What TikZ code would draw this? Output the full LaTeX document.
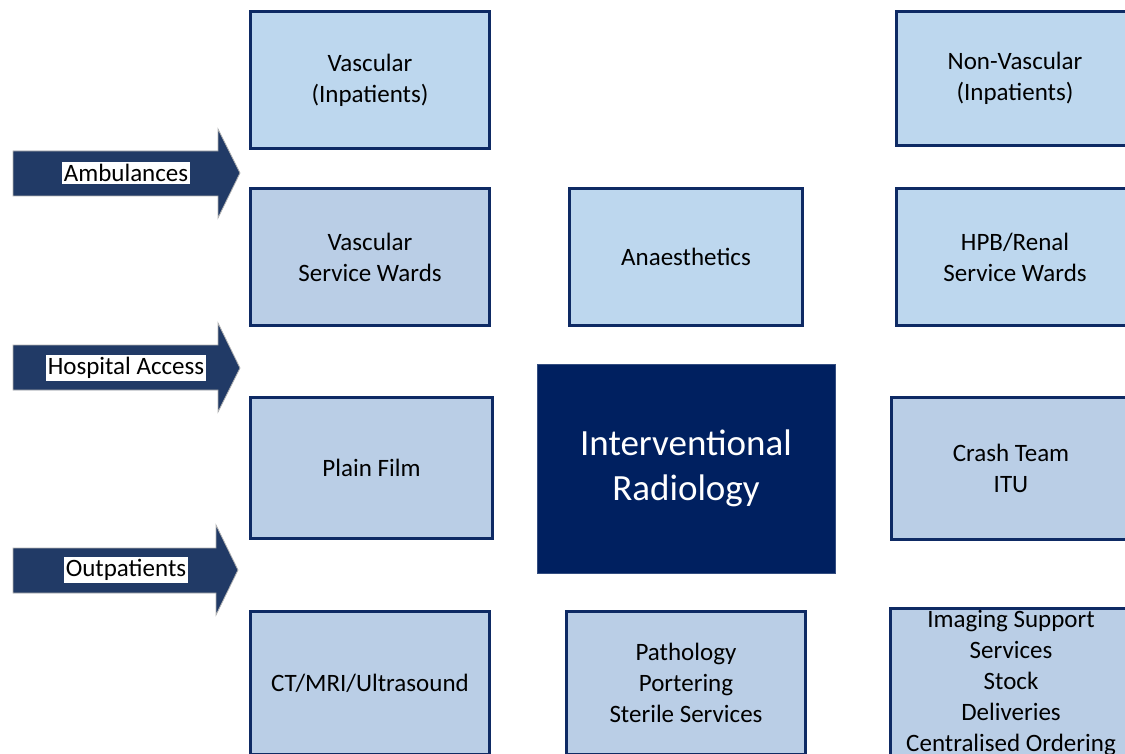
\documentclass[tikz,border=0pt]{standalone}
\usepackage{fontspec}
\setmainfont{Carlito}
\definecolor{navy}{HTML}{0E2A64}
\definecolor{irblue}{HTML}{002060}
\definecolor{arrowblue}{HTML}{213A66}
\definecolor{paleA}{HTML}{BDD7EE}
\definecolor{paleB}{HTML}{BACEE6}
\begin{document}
\begin{tikzpicture}[x=1pt,y=-1pt,
  unitbox/.style={draw=navy, line width=3pt, inner sep=2pt, align=center,
    font=\fontsize{25}{31}\selectfont, text=black},
  wardbox/.style={unitbox, fill=paleA},
  supportbox/.style={unitbox, fill=paleB},
  corebox/.style={fill=irblue, draw=irblue!80!white, line width=0.8pt, align=center,
    font=\fontsize{37}{45}\selectfont, text=white},
  flowarrow/.style={fill=arrowblue, draw=gray!60, line width=0.8pt},
  flowlabel/.style={fill=white, inner sep=2pt, font=\fontsize{25}{30}\selectfont, text=black}]
\useasboundingbox (0,0) rectangle (1125,754);
\clip (0,0) rectangle (1125,754);

% left column
\node[wardbox, minimum width=239pt, minimum height=137pt] (vi) at (370,80) {Vascular\\(Inpatients)};
\node[supportbox, minimum width=239pt, minimum height=137pt] (vsw) at (370,257) {Vascular\\Service Wards};
\node[supportbox, minimum width=242pt, minimum height=141pt] (pf) at (371.5,468) {Plain Film};
\node[supportbox, minimum width=239pt, minimum height=143pt] (ctmri) at (370,683) {CT/MRI/Ultrasound};

% middle column
\node[wardbox, minimum width=233pt, minimum height=137pt] (an) at (686,257) {Anaesthetics};
\node[corebox, minimum width=298pt, minimum height=209pt] (ir) at (686,468.5) {Interventional\\Radiology};
\node[supportbox, minimum width=239pt, minimum height=143pt] (path) at (686,683) {Pathology\\Portering\\Sterile Services};

% right column
\node[wardbox, minimum width=237pt, minimum height=134pt] (nv) at (1015,78.5) {Non-Vascular\\(Inpatients)};
\node[wardbox, minimum width=237pt, minimum height=137pt] (hpb) at (1015,257) {HPB/Renal\\Service Wards};
\node[supportbox, minimum width=240pt, minimum height=142pt] (crash) at (1011,468.5) {Crash Team\\ITU};
\node[supportbox, minimum width=241pt, minimum height=147pt] (img) at (1011,683)
  {Imaging Support\\Services\\Stock\\Deliveries\\Centralised Ordering};

% entry arrows
\fill[flowarrow] (13,151) -- (218,151) -- (218,129) -- (240,173) -- (218,218) -- (218,196) -- (13,196) -- cycle;
\node[flowlabel] (amb) at (126,173) {Ambulances};

\fill[flowarrow] (13,345) -- (218,345) -- (218,323) -- (240,368) -- (218,412) -- (218,390) -- (13,390) -- cycle;
\node[flowlabel] (access) at (126,368) {Hospital Access};

\fill[flowarrow] (13,548) -- (216,548) -- (216,525) -- (238,570) -- (216,615) -- (216,593) -- (13,593) -- cycle;
\node[flowlabel] (outp) at (126,570) {Outpatients};
\end{tikzpicture}
\end{document}
